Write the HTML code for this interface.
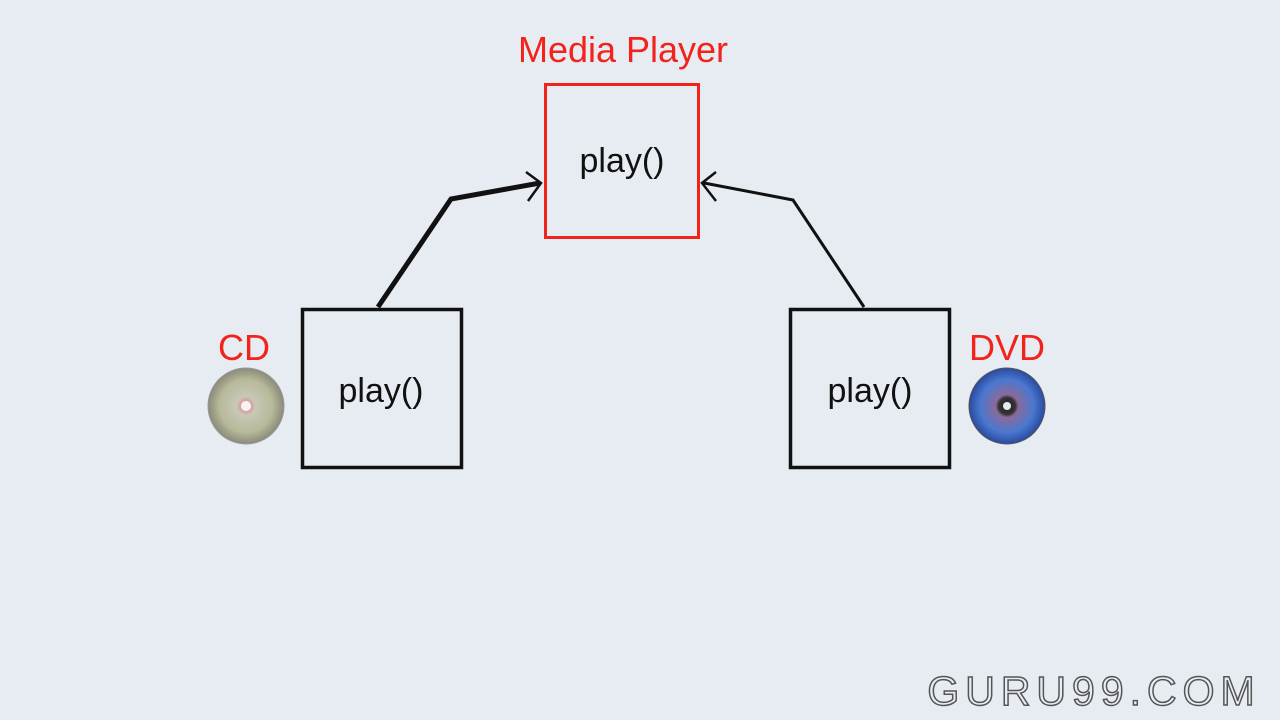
<!DOCTYPE html>
<html><head><meta charset="utf-8"><style>
html,body{margin:0;padding:0;background:#e7ebf2;}
svg{display:block}
text{font-family:"Liberation Sans",sans-serif}
</style></head><body>
<svg width="1280" height="720" viewBox="0 0 1280 720">
<defs>
<radialGradient id="cd" cx="50%" cy="50%" r="50%">
<stop offset="0" stop-color="#fff"/><stop offset="0.15" stop-color="#d9a0a0"/><stop offset="0.25" stop-color="#c8c8b8"/><stop offset="0.7" stop-color="#b8b89a"/><stop offset="1" stop-color="#8a8a7a"/>
</radialGradient>
<radialGradient id="dvd" cx="50%" cy="50%" r="50%">
<stop offset="0" stop-color="#222"/><stop offset="0.22" stop-color="#333"/><stop offset="0.3" stop-color="#8a6a9a"/><stop offset="0.7" stop-color="#4a78d0"/><stop offset="1" stop-color="#2a4aa0"/>
</radialGradient>
</defs>
<rect width="1280" height="720" fill="#e7ebf2"/>
<text x="623" y="62" text-anchor="middle" font-size="36" fill="#f2231a">Media Player</text>
<rect x="545.5" y="84.5" width="153" height="153" fill="none" stroke="#f2231a" stroke-width="3"/>
<text x="622" y="172" text-anchor="middle" font-size="34" fill="#111">play()</text>
<rect x="302.5" y="309.5" width="159" height="158" fill="none" stroke="#111" stroke-width="3.5"/>
<text x="381" y="402" text-anchor="middle" font-size="34" fill="#111">play()</text>
<rect x="790.5" y="309.5" width="159" height="158" fill="none" stroke="#111" stroke-width="3.5"/>
<text x="870" y="402" text-anchor="middle" font-size="34" fill="#111">play()</text>
<polyline points="378,307 451,199 540,183" fill="none" stroke="#111" stroke-width="5"/>
<polyline points="526,172 541,183 528,201" fill="none" stroke="#111" stroke-width="2.5"/>
<polyline points="864,307 793,200 704,183" fill="none" stroke="#111" stroke-width="3"/>
<polyline points="716,172 702,183 716,201" fill="none" stroke="#111" stroke-width="2.5"/>
<text x="244" y="360" text-anchor="middle" font-size="36" fill="#f2231a">CD</text>
<circle cx="246" cy="406" r="38" fill="url(#cd)" stroke="#999" stroke-width="1"/>
<circle cx="246" cy="406" r="5" fill="#f4f4f4"/>
<text x="1007" y="360" text-anchor="middle" font-size="36" fill="#f2231a">DVD</text>
<circle cx="1007" cy="406" r="38" fill="url(#dvd)" stroke="#555" stroke-width="1"/>
<circle cx="1007" cy="406" r="4" fill="#e7ebf2"/>
<text x="1094" y="705" text-anchor="middle" font-size="41" fill="#e9edf3" stroke="#555" stroke-width="1.5" letter-spacing="6">GURU99.COM</text>
</svg>
</body></html>
